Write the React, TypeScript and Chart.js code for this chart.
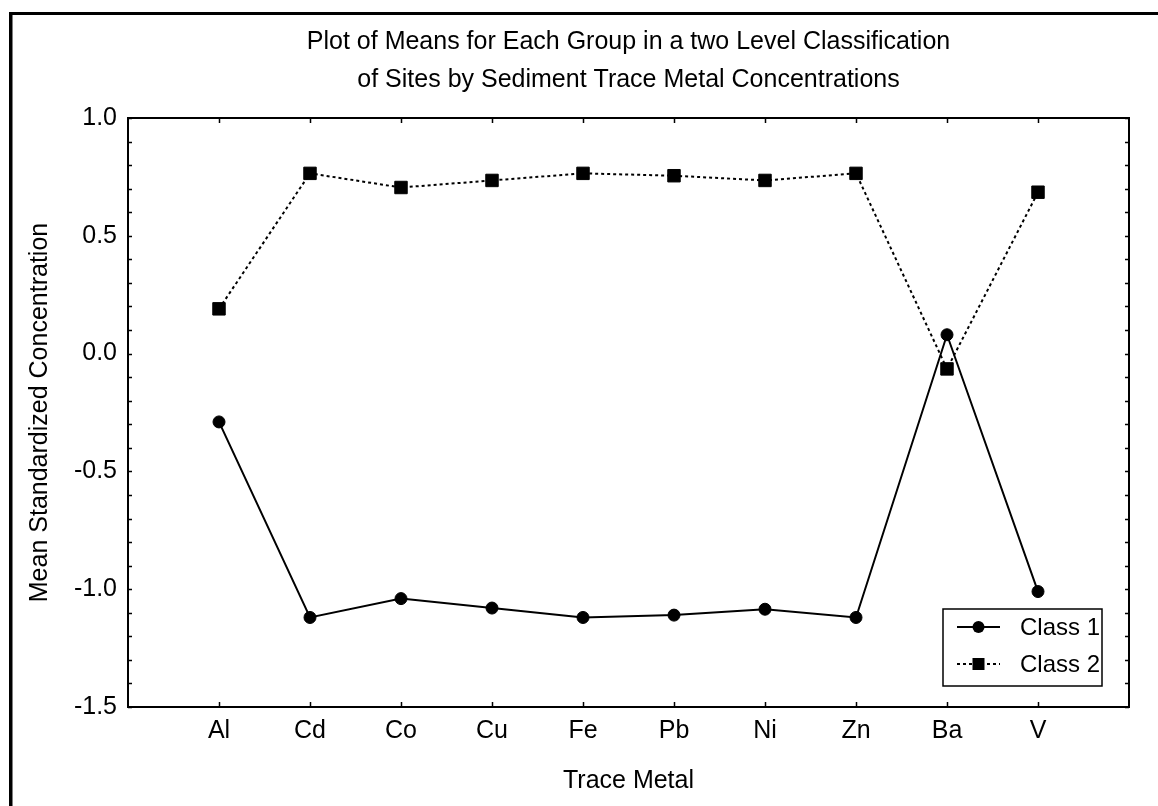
import React, { useEffect, useRef } from 'react';
import { Chart, registerables } from 'chart.js';

Chart.register(...registerables);

// ---- data ----
const metals = ['Al', 'Cd', 'Co', 'Cu', 'Fe', 'Pb', 'Ni', 'Zn', 'Ba', 'V'];
const class1 = [-0.29, -1.12, -1.04, -1.08, -1.12, -1.11, -1.085, -1.12, 0.08, -1.01];
const class2 = [0.19, 0.765, 0.705, 0.735, 0.765, 0.755, 0.735, 0.765, -0.065, 0.685];
const seriesNames = ['Class 1', 'Class 2'];
const titleLines = [
  'Plot of Means for Each Group in a two Level Classification',
  'of Sites by Sediment Trace Metal Concentrations',
];
const xTitle = 'Trace Metal';
const yTitle = 'Mean Standardized Concentration';
const yMin = -1.5;
const yMax = 1.0;
const yMajorStep = 0.5;
const yMinorStep = 0.1;

const FAMILY = '"Liberation Sans", Arial, Helvetica, sans-serif';

const boxPlugin = {
  id: 'boxPlugin',
  beforeDraw(chart: any) {
    const { ctx, width, height } = chart;
    ctx.save();
    ctx.fillStyle = '#fff';
    ctx.fillRect(0, 0, width, height);
    ctx.fillStyle = '#000';
    // outer page frame (left and top edges)
    ctx.fillRect(9, 12, 3.5, height - 12);
    ctx.fillRect(9, 12, width - 9, 3);
    ctx.restore();
  },
  afterDraw(chart: any) {
    const { ctx, chartArea: a, scales } = chart;
    const x = scales.x;
    const y = scales.y;
    ctx.save();
    ctx.strokeStyle = '#000';
    ctx.lineWidth = 2;
    ctx.strokeRect(a.left, a.top, a.right - a.left, a.bottom - a.top);
    // inward minor ticks on left and right
    ctx.lineWidth = 1.5;
    const n = Math.round((yMax - yMin) / yMinorStep);
    for (let k = 0; k <= n; k++) {
      const py = Math.round(y.getPixelForValue(yMin + k * yMinorStep)) + 0.5;
      ctx.beginPath();
      ctx.moveTo(a.left, py);
      ctx.lineTo(a.left + 4, py);
      ctx.moveTo(a.right, py);
      ctx.lineTo(a.right - 4, py);
      ctx.stroke();
    }
    // inward category ticks on top and bottom
    for (let i = 0; i < metals.length; i++) {
      const px = Math.round(x.getPixelForValue(i)) + 0.5;
      ctx.beginPath();
      ctx.moveTo(px, a.bottom);
      ctx.lineTo(px, a.bottom - 5);
      ctx.moveTo(px, a.top);
      ctx.lineTo(px, a.top + 5);
      ctx.stroke();
    }
    // legend box inside plot
    const bw = 159;
    const bh = 77;
    const bx = a.right - 27 - bw;
    const by = a.bottom - 21 - bh;
    ctx.fillStyle = '#fff';
    ctx.fillRect(bx, by, bw, bh);
    ctx.lineWidth = 1.5;
    ctx.strokeRect(bx, by, bw, bh);
    const dsets = chart.data.datasets;
    dsets.forEach((ds: any, i: number) => {
      const cy = by + 18 + i * 37;
      const lx0 = bx + 14;
      const lx1 = bx + 57;
      const mx = (lx0 + lx1) / 2;
      ctx.strokeStyle = '#000';
      ctx.lineWidth = ds.borderWidth;
      ctx.setLineDash(ds.borderDash || []);
      ctx.beginPath();
      ctx.moveTo(lx0, cy);
      ctx.lineTo(lx1, cy);
      ctx.stroke();
      ctx.setLineDash([]);
      ctx.fillStyle = '#000';
      if (ds.pointStyle === 'rect') {
        ctx.fillRect(mx - 6, cy - 6, 12, 12);
      } else {
        ctx.beginPath();
        ctx.arc(mx, cy, 6, 0, Math.PI * 2);
        ctx.fill();
      }
      ctx.font = `24px ${FAMILY}`;
      ctx.textAlign = 'left';
      ctx.textBaseline = 'middle';
      ctx.fillText(ds.label, bx + 77, cy + 1);
    });
    ctx.restore();
  },
};

export default function App() {
  const ref = useRef<HTMLCanvasElement | null>(null);

  useEffect(() => {
    if (!ref.current) return;
    const font = { size: 25, family: FAMILY, weight: 'normal' as const };
    const chart = new Chart(ref.current, {
      type: 'line',
      data: {
        datasets: [
          {
            label: seriesNames[0],
            data: metals.map((_, i) => ({ x: i, y: class1[i] })),
            borderColor: '#000',
            backgroundColor: '#000',
            borderWidth: 2,
            pointStyle: 'circle',
            pointRadius: 6,
            pointBorderWidth: 1,
            pointBackgroundColor: '#000',
            pointBorderColor: '#000',
            tension: 0,
          },
          {
            label: seriesNames[1],
            data: metals.map((_, i) => ({ x: i, y: class2[i] })),
            borderColor: '#000',
            backgroundColor: '#000',
            borderWidth: 2,
            borderDash: [3, 3],
            pointStyle: 'rect',
            pointRadius: 8.8,
            pointBorderWidth: 1,
            pointBackgroundColor: '#000',
            pointBorderColor: '#000',
            tension: 0,
          },
        ],
      },
      options: {
        animation: false,
        responsive: true,
        maintainAspectRatio: false,
        color: '#000',
        layout: { padding: { left: 20, right: 29, top: 0, bottom: 5 } },
        plugins: {
          legend: { display: false },
          tooltip: { enabled: false },
          title: {
            display: true,
            text: titleLines,
            fullSize: false,
            color: '#000',
            font: { size: 25, family: FAMILY, weight: 'normal', lineHeight: '38px' } as any,
            padding: { top: 23, bottom: 19 },
          },
        },
        scales: {
          x: {
            type: 'linear',
            min: -1,
            max: metals.length,
            grid: { display: false, drawTicks: false },
            border: { display: false },
            ticks: {
              stepSize: 1,
              autoSkip: false,
              maxRotation: 0,
              padding: 9,
              color: '#000',
              font,
              callback: (v: any) => {
                const i = Math.round(Number(v));
                return i >= 0 && i < metals.length ? metals[i] : '';
              },
            },
            title: {
              display: true,
              text: xTitle,
              color: '#000',
              font,
              padding: { top: 11, bottom: 5 },
            },
          },
          y: {
            type: 'linear',
            min: yMin,
            max: yMax,
            afterFit: (s: any) => {
              s.width = 108;
            },
            grid: { display: false, drawTicks: false },
            border: { display: false },
            ticks: {
              stepSize: yMajorStep,
              padding: 11,
              color: '#000',
              font,
              callback: (v: any) => Number(v).toFixed(1),
            },
            title: {
              display: true,
              text: yTitle,
              color: '#000',
              font,
              padding: { top: 5, bottom: 0 },
            },
          },
        },
      },
      plugins: [boxPlugin],
    });
    return () => chart.destroy();
  }, []);

  return (
    <div style={{ position: 'fixed', left: 0, top: 0, width: 1158, height: 806, background: '#fff' }}>
      <canvas ref={ref} />
    </div>
  );
}
